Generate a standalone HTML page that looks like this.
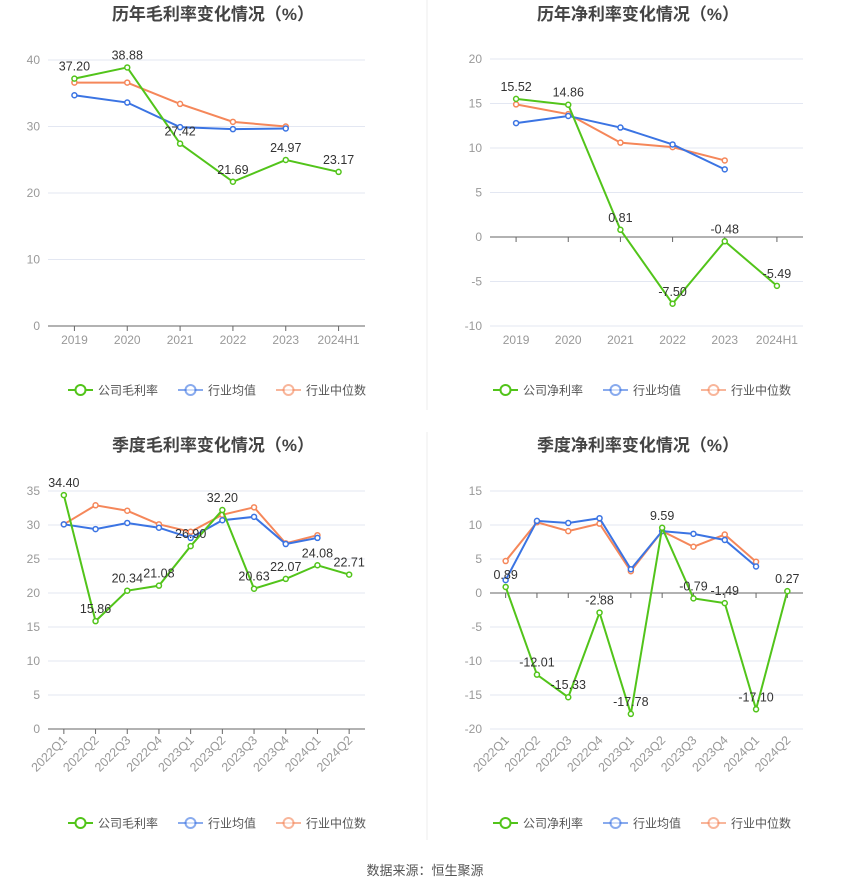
<!DOCTYPE html>
<html><head><meta charset="utf-8">
<style>
body{margin:0;background:#fff;font-family:"Liberation Sans","Noto Sans CJK SC",sans-serif;}
#wrap{position:relative;width:850px;height:891px;}
svg text{font-family:"Liberation Sans","Noto Sans CJK SC",sans-serif;}
</style></head>
<body>
<div id="wrap">
<svg id="svg" width="850" height="891">
<line x1="427" y1="0" x2="427" y2="410" stroke="#eee"/>
<line x1="427" y1="432" x2="427" y2="840" stroke="#eee"/>
<text x="425" y="875" text-anchor="middle" font-size="13" fill="#555">数据来源：恒生聚源</text>
</svg>
</div>
<script>
const annualCats=["2019","2020","2021","2022","2023","2024H1"];
const quarterCats=["2022Q1","2022Q2","2022Q3","2022Q4","2023Q1","2023Q2","2023Q3","2023Q4","2024Q1","2024Q2"];
const grossCompany=[37.20,38.88,27.42,21.69,24.97,23.17];
const grossAvg=[34.7,33.6,29.9,29.6,29.7];
const grossMedian=[36.6,36.6,33.4,30.7,30.0];
const netCompany=[15.52,14.86,0.81,-7.50,-0.48,-5.49];
const netAvg=[12.8,13.6,12.3,10.4,7.6];
const netMedian=[14.9,13.8,10.6,10.1,8.6];
const qGrossCompany=[34.40,15.86,20.34,21.08,26.90,32.20,20.63,22.07,24.08,22.71];
const qGrossAvg=[30.1,29.4,30.3,29.6,28.1,30.7,31.2,27.2,28.1];
const qGrossMedian=[30.1,32.9,32.1,30.1,29.0,31.5,32.6,27.3,28.5];
const qNetCompany=[0.89,-12.01,-15.33,-2.88,-17.78,9.59,-0.79,-1.49,-17.10,0.27];
const qNetAvg=[1.9,10.6,10.3,11.0,3.5,9.1,8.7,7.8,3.9];
const qNetMedian=[4.7,10.4,9.1,10.2,3.2,9.1,6.8,8.6,4.6];
const grossTicks=[0,10,20,30,40];
const netTicks=[-10,-5,0,5,10,15,20];
const qGrossTicks=[0,5,10,15,20,25,30,35];
const qNetTicks=[-20,-15,-10,-5,0,5,10,15];

const NS="http://www.w3.org/2000/svg";
const svg=document.getElementById('svg');
const G="#52c41a",B="#3b74e3",O="#f5875a";
function el(tag,attrs,parent){const e=document.createElementNS(NS,tag);for(const k in attrs)e.setAttribute(k,attrs[k]);(parent||svg).appendChild(e);return e;}

function chart(o){
  const g=el('g',{});
  
  
  const t=el('text',{x:o.cx,y:o.ty,'text-anchor':'middle','font-size':17,'font-weight':'bold',fill:'#444'},g);
  t.textContent=o.title;
  
  
  const tmin=o.ticks[0],tmax=o.ticks[o.ticks.length-1];
  const y=v=>o.y1-(v-tmin)/(tmax-tmin)*(o.y1-o.y0);
  const bw=(o.x1-o.x0)/o.cats.length;
  const x=i=>o.x0+bw*(i+0.5);
  o.ticks.forEach(v=>{
    const l=el('line',{x1:o.x0,x2:o.x1,y1:y(v),y2:y(v),stroke:'#e3e7f2'},g);
    
    
    const tx=el('text',{x:o.x0-8,y:y(v)+4,'text-anchor':'end','font-size':12,fill:'#999'},g);
    tx.textContent=v;
    
    
  });
  const zy=y(Math.max(0,tmin));
  const ax=el('line',{x1:o.x0,x2:o.x1,y1:zy,y2:zy,stroke:'#666'},g);
  
  
  o.cats.forEach((c,i)=>{
    const tk=el('line',{x1:x(i),x2:x(i),y1:zy,y2:zy+5,stroke:'#666'},g);
    
    
    let tx;
    if(o.rot){
      tx=el('text',{x:x(i)+4,y:o.y1+12,'text-anchor':'end','font-size':12.5,fill:'#999',transform:`rotate(-45 ${x(i)+4} ${o.y1+12})`},g);
    }else{
      tx=el('text',{x:x(i),y:o.y1+18,'text-anchor':'middle','font-size':12,fill:'#999'},g);
    }
    tx.textContent=c;
    
    
  });
  [[o.med,O,'median-series'],[o.avg,B,'average-series'],[o.comp,G,'company-series']].forEach(([d,col,nm])=>{
    const p=el('polyline',{points:d.map((v,i)=>x(i)+','+y(v)).join(' '),fill:'none',stroke:col,'stroke-width':2},g);
    
    
    d.forEach((v,i)=>{
      const c=el('circle',{cx:x(i),cy:y(v),r:2.5,fill:'#fff',stroke:col,'stroke-width':1.5},g);
      
      
    });
  });
  o.comp.forEach((v,i)=>{
    const tx=el('text',{x:x(i),y:y(v)-8,'text-anchor':'middle','font-size':12.5,fill:'#333'},g);
    tx.textContent=v.toFixed(2);
    
    
  });
  const items=[[o.compName,G],['行业均值',B],['行业中位数',O]];
  let lx=o.cx-145;
  items.forEach(([n,col],k)=>{
    const lg=el('g',{},g);
    
    
    const op=k==0?1:0.6;
    el('line',{x1:lx,x2:lx+25,y1:o.ly,y2:o.ly,stroke:col,'stroke-width':2,opacity:op},lg);
    el('circle',{cx:lx+12.5,cy:o.ly,r:5,fill:'#fff',stroke:col,'stroke-width':2,opacity:op},lg);
    const tx=el('text',{x:lx+30,y:o.ly+4.5,'font-size':12,fill:'#555'},lg);
    tx.textContent=n;
    lx+=30+n.length*12+20;
  });
}
chart({name:'annual-gross-margin-chart',title:'历年毛利率变化情况（%）',cx:213,ty:20,x0:48,x1:365,y0:60,y1:326,ticks:grossTicks,cats:annualCats,comp:grossCompany,avg:grossAvg,med:grossMedian,compName:'公司毛利率',ly:390});
chart({name:'annual-net-margin-chart',title:'历年净利率变化情况（%）',cx:638,ty:20,x0:490,x1:803,y0:59,y1:326,ticks:netTicks,cats:annualCats,comp:netCompany,avg:netAvg,med:netMedian,compName:'公司净利率',ly:390});
chart({name:'quarterly-gross-margin-chart',title:'季度毛利率变化情况（%）',cx:213,ty:451,x0:48,x1:365,y0:491,y1:729,ticks:qGrossTicks,cats:quarterCats,comp:qGrossCompany,avg:qGrossAvg,med:qGrossMedian,compName:'公司毛利率',ly:823,rot:true});
chart({name:'quarterly-net-margin-chart',title:'季度净利率变化情况（%）',cx:638,ty:451,x0:490,x1:803,y0:491,y1:729,ticks:qNetTicks,cats:quarterCats,comp:qNetCompany,avg:qNetAvg,med:qNetMedian,compName:'公司净利率',ly:823,rot:true});
</script>
</body></html>
